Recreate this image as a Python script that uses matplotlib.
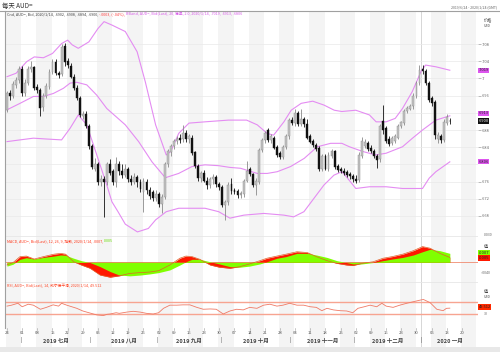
import matplotlib
matplotlib.use('Agg')
import matplotlib.pyplot as plt
import pandas as pd

plt.rcParams['font.family'] = ['Noto Sans CJK SC', 'DejaVu Sans']

W, H = 500, 352

# daily candles, AUD=  (2019-06-24 .. 2020-01-14, weekdays)
opens = [.6927, .6965, .6958, .6985, .6996, .7022, .6966, .6990, .7022, .7026,
         .6980, .6972, .6933, .6960, .6980, .7016, .7039, .7012, .7010, .7075,
         .7040, .7030, .7004, .6977, .6954, .6912, .6918, .6890, .6842, .6790,
         .6800, .6760, .6765, .6760, .6800, .6785, .6758, .6800, .6785, .6775,
         .6790, .6765, .6760, .6770, .6760, .6735, .6760, .6740, .6735, .6722,
         .6730, .6708, .6725, .6800, .6828, .6842, .6855, .6862, .6858, .6872,
         .6858, .6862, .6828, .6797, .6768, .6780, .6762, .6752, .6765, .6770,
         .6755, .6748, .6705, .6712, .6755, .6740, .6738, .6728, .6730, .6762,
         .6790, .6777, .6752, .6760, .6833, .6857, .6880, .6857, .6862, .6840,
         .6826, .6818, .6840, .6865, .6903, .6897, .6920, .6895, .6905, .6893,
         .6865, .6855, .6845, .6838, .6790, .6820, .6790, .6820, .6830, .6797,
         .6790, .6785, .6782, .6778, .6772, .6765, .6764, .6820, .6843, .6850,
         .6838, .6830, .6820, .6812, .6900, .6885, .6860, .6850, .6855, .6862,
         .6890, .6897, .6925, .6930, .6935, .6960, .6990, .7022, .7018, .6990,
         .6954, .6945, .6860, .6865, .6857, .6897, .6902]
highs = [.6970, .6972, .6995, .7003, .7030, .7030, .6998, .7030, .7040, .7030,
         .6988, .6978, .6965, .6990, .7022, .7045, .7045, .7018, .7080, .7082,
         .7048, .7035, .7010, .6985, .6960, .6925, .6925, .6895, .6848, .6815,
         .6805, .6775, .6772, .6805, .6812, .6790, .6818, .6808, .6800, .6802,
         .6795, .6775, .6780, .6775, .6765, .6768, .6765, .6748, .6740, .6740,
         .6735, .6730, .6805, .6835, .6848, .6860, .6865, .6870, .6892, .6880,
         .6870, .6868, .6832, .6802, .6785, .6788, .6770, .6770, .6778, .6775,
         .6760, .6752, .6718, .6758, .6768, .6745, .6742, .6738, .6765, .6808,
         .6795, .6780, .6768, .6838, .6862, .6878, .6885, .6870, .6866, .6845,
         .6830, .6845, .6870, .6908, .6910, .6928, .6924, .6928, .6910, .6905,
         .6870, .6860, .6850, .6842, .6825, .6825, .6828, .6836, .6834, .6800,
         .6795, .6792, .6788, .6782, .6778, .6775, .6828, .6864, .6858, .6855,
         .6845, .6836, .6825, .6895, .6938, .6890, .6865, .6866, .6870, .6895,
         .6902, .6930, .6936, .6940, .6965, .6995, .7032, .7031, .7022, .6995,
         .6960, .6950, .6875, .6870, .6905, .6918, .6908]
lows = [.6922, .6950, .6955, .6978, .6990, .6960, .6960, .6985, .7015, .6972,
        .6965, .6912, .6925, .6955, .6975, .7010, .7008, .7000, .7005, .7030,
        .7025, .7000, .6972, .6950, .6910, .6905, .6885, .6835, .6790, .6785,
        .6752, .6750, .6678, .6752, .6775, .6752, .6748, .6775, .6768, .6770,
        .6760, .6752, .6755, .6748, .6735, .6690, .6732, .6720, .6715, .6715,
        .6700, .6688, .6720, .6795, .6820, .6835, .6848, .6850, .6852, .6852,
        .6850, .6822, .6792, .6762, .6760, .6758, .6742, .6745, .6755, .6748,
        .6740, .6700, .6671, .6705, .6732, .6730, .6722, .6722, .6725, .6758,
        .6772, .6748, .6728, .6755, .6828, .6850, .6852, .6850, .6835, .6818,
        .6812, .6812, .6835, .6860, .6892, .6890, .6890, .6890, .6888, .6858,
        .6850, .6840, .6832, .6785, .6785, .6786, .6785, .6815, .6790, .6782,
        .6780, .6775, .6770, .6765, .6760, .6756, .6760, .6815, .6838, .6832,
        .6826, .6815, .6792, .6805, .6870, .6850, .6842, .6845, .6850, .6858,
        .6885, .6892, .6920, .6926, .6930, .6955, .6985, .7010, .6985, .6945,
        .6935, .6860, .6850, .6850, .6852, .6892, .6894]
closes = [.6965, .6958, .6988, .6996, .7023, .6966, .6990, .7022, .7026, .6978,
          .6972, .6932, .6960, .6982, .7016, .7039, .7012, .7008, .7074, .7038,
          .7031, .7004, .6977, .6954, .6915, .6918, .6890, .6842, .6795, .6800,
          .6760, .6765, .6760, .6800, .6780, .6760, .6800, .6785, .6775, .6790,
          .6765, .6760, .6770, .6760, .6743, .6762, .6740, .6727, .6722, .6730,
          .6708, .6725, .6800, .6830, .6842, .6855, .6860, .6856, .6872, .6858,
          .6865, .6827, .6797, .6768, .6780, .6762, .6752, .6765, .6770, .6755,
          .6748, .6705, .6712, .6752, .6738, .6735, .6728, .6733, .6762, .6785,
          .6777, .6752, .6762, .6833, .6857, .6872, .6857, .6865, .6838, .6822,
          .6817, .6840, .6865, .6903, .6897, .6920, .6895, .6905, .6893, .6862,
          .6853, .6845, .6835, .6790, .6820, .6790, .6822, .6830, .6795, .6787,
          .6785, .6780, .6776, .6772, .6765, .6762, .6822, .6855, .6852, .6836,
          .6830, .6820, .6810, .6890, .6880, .6855, .6848, .6862, .6866, .6890,
          .6898, .6925, .6932, .6935, .6960, .6990, .7020, .7017, .6990, .6950,
          .6943, .6868, .6868, .6857, .6899, .6910, .6900]

# Bollinger band (20, 2.0), read at sample days
bb_up_day = [0, 3, 6.5, 9, 12, 15, 18, 20, 21.5, 23.5, 27, 30, 32, 34.6, 39, 42.9,
             45.6, 49, 52.5, 54, 56.6, 60, 65.3, 73, 79, 82.5, 85.8, 87.9, 91.3,
             93.7, 97, 100.8, 104.5, 107.9, 110.4, 115, 119.5, 121.7, 125, 128,
             130.4, 133.6, 136.5, 138, 141.4, 146]
bb_up = [.7004, .7012, .7039, .7050, .7048, .7058, .7081, .7089, .7078, .7070,
         .7085, .7116, .7132, .7124, .7109, .7062, .6992, .6892, .6822, .6830,
         .6872, .6896, .6899, .6903, .6903, .6892, .6872, .6868, .6899, .6926,
         .6942, .6947, .6938, .6926, .6923, .6926, .6915, .6899, .6899, .6907,
         .6930, .6969, .7016, .7031, .7027, .7019]
bb_mid_day = [0, 4.3, 8.7, 12, 15.3, 18.6, 20.8, 23, 26.3, 29.6, 32.9, 36.6, 39,
              43.4, 47.8, 52.2, 56.6, 61, 65.3, 69.8, 73.5, 77, 82.5, 85.8, 89.1,
              93.5, 98, 102.3, 106.7, 110.4, 112.9, 117.3, 121.6, 125, 130.4,
              133.7, 137, 141.4, 146]
bb_mid = [.6927, .6942, .6958, .6958, .6965, .6977, .6989, .6991, .6985, .6961,
          .6930, .6907, .6892, .6853, .6806, .6769, .6779, .6795, .6799, .6797,
          .6793, .6791, .6779, .6779, .6783, .6795, .6814, .6841, .6849, .6849,
          .6841, .6830, .6822, .6826, .6841, .6861, .6880, .6903, .6913]
bb_low_day = [0, 4.3, 8.7, 13.1, 18, 20.8, 23.5, 26.3, 29.6, 32.9, 34.6, 36.6, 39,
              43, 46.6, 49, 52.5, 56.6, 61, 65.3, 69.8, 73.5, 78.1, 84.7, 91.3,
              94.5, 97.9, 101.2, 104.5, 107.8, 110.4, 111.8, 115, 119.5, 125,
              130.4, 137, 139.2, 141.4, 146]
bb_low = [.6853, .6857, .6861, .6859, .6857, .6884, .6915, .6892, .6822, .6752,
          .6713, .6690, .6661, .6643, .6651, .6671, .6690, .6698, .6698, .6698,
          .6690, .6675, .6682, .6686, .6682, .6678, .6690, .6721, .6752, .6775,
          .6783, .6772, .6744, .6748, .6748, .6744, .6744, .6768, .6783, .6806]

# MACD (12, 26, 9)
macd_day = [0, 2, 4.3, 6.4, 9, 12, 15.5, 17.7, 19.3, 22, 24.5, 27.4, 30.7, 34, 37,
            40.5, 44, 47, 50, 53.7, 57, 59, 61, 63.6, 67, 70, 73.5, 76.8, 80,
            83.4, 85.7, 89, 92, 95.6, 99, 102, 105.5, 108.8, 112, 114, 117,
            120.7, 124, 127, 130.5, 134, 137, 139.5, 142.7, 146]
macd = [-.0010, -.0001, .0021, .0023, .0012, .0021, .0030, .0033, .0030, .0002,
        -.0010, -.0022, -.0047, -.0055, -.0050, -.0041, -.0038, -.0036, -.0031,
        -.0010, .0015, .0023, .0021, .0011, -.0010, -.0018, -.0022, -.0016,
        -.0006, .0006, .0015, .0023, .0030, .0039, .0036, .0021, .0006, -.0004,
        -.0010, -.0012, -.0004, .0002, .0015, .0021, .0030, .0043, .0058, .0052,
        .0033, .0018]
signal = [-.0014, -.0007, .0011, .0017, .0012, .0018, .0023, .0027, .0026, .0015,
          .0006, -.0001, -.0016, -.0034, -.0047, -.0050, -.0047, -.0043, -.0038,
          -.0028, -.0010, .0002, .0011, .0011, .0002, -.0006, -.0016, -.0018,
          -.0014, -.0006, .0002, .0015, .0021, .0033, .0033, .0027, .0018, .0006,
          -.0001, -.0006, -.0006, -.0001, .0006, .0012, .0018, .0027, .0039,
          .0048, .0043, .0033]

# RSI (14)
rsi_day = [0, 1.5, 3.6, 5, 7, 8.7, 11, 13, 15.2, 17, 18, 19.7, 23, 25, 27, 29.6,
           31.8, 33, 34, 36, 37, 39.5, 41.6, 43.9, 46, 48.2, 50, 51.6, 53.7, 56,
           58, 60.3, 62.6, 64.7, 67, 69, 71.3, 73.5, 75.7, 77.9, 80, 82.4, 84.6,
           86.7, 89, 91, 93.2, 95.6, 97.8, 100, 102, 103.8, 105.5, 107.6, 109.8,
           112, 114, 115.7, 117.8, 119.7, 121.9, 123.6, 125, 127.3, 129.5, 131.8,
           134, 136.2, 137.3, 139.5, 141.7, 143.8, 144.9, 146]
rsi = [56, 59, 65, 54, 62, 59, 46, 52, 60, 56, 65, 59, 49, 40.5, 35, 28, 26, 30,
       31, 35, 33, 37, 39.5, 37, 33, 31, 35, 49, 59, 59, 60, 60, 52, 46, 47, 46,
       31, 40.5, 46, 44, 52, 49, 59, 62, 56, 59, 65, 59, 59, 54, 52, 41.5, 49,
       44, 41.5, 40.5, 35, 49, 54, 59, 54, 65, 56, 52, 59, 65, 70, 75, 77, 67,
       46, 41.5, 49, 49.512]

months = ['2019 七月', '2019 八月', '2019 九月', '2019 十月', '2019 十一月',
          '2019 十二月', '2020 一月']
price_ticks = [.668, .672, .676, .684, .688, .696, .700, .704, .708]
grid_ticks = [.668, .672, .676, .680, .684, .688, .692, .696, .700, .704, .708]

days = pd.bdate_range('2019-06-24', '2020-01-24')
n = len(closes)

# ---- pixel helpers (layout only) ----
X0 = 7.0
DX = 3.033


def px_axes(fig, x0, y0, x1, y1, **kw):
    return fig.add_axes([x0 / W, 1 - y1 / H, (x1 - x0) / W, (y1 - y0) / H], **kw)


def day_x(i):
    return (i - X0) / DX


fig = plt.figure(figsize=(W / 100, H / 100), dpi=100)
fig.patch.set_facecolor('white')
XL = (day_x(5), day_x(478))

# background week stripes
bg = px_axes(fig, 5, 11, 478, 347)
bg.set_xlim(*XL)
bg.set_ylim(0, 1)
bg.axis('off')
for k in range(0, len(days), 10):
    bg.axvspan(k - 0.3, k + 4.7, color='#f4f4f4', lw=0)
bg.axvline(136.5, color='#d0d0d0', lw=0.6)

# frame lines
fig.add_artist(plt.Line2D([0, 1], [1 - 11 / H] * 2, color='#a0a0a0', lw=0.8))
fig.add_artist(plt.Line2D([5 / W] * 2, [1 - 11 / H, 1 - 328 / H], color='#a0a0a0', lw=0.8))
fig.add_artist(plt.Rectangle((0, 0), 1, 5 / H, color='#e8e8e8', lw=0))

# ---- main price panel ----
ax = px_axes(fig, 5, 11, 478, 236)
ax.patch.set_alpha(0)
ax.set_xlim(*XL)
ax.set_ylim(.708 - 192 / 4300, .708 + 33 / 4300)
for t in grid_ticks:
    ax.axhline(t, color='#e9e9e9', lw=0.5, zorder=0)

ax.plot(bb_up_day, bb_up, color='#e48cf2', lw=0.8, zorder=2)
ax.plot(bb_mid_day, bb_mid, color='#e48cf2', lw=0.8, zorder=2)
ax.plot(bb_low_day, bb_low, color='#e48cf2', lw=0.8, zorder=2)

for i in range(n):
    up = closes[i] >= opens[i]
    fc = '#c4c4c4' if up else '#111111'
    ec = '#8a8a8a' if up else '#111111'
    ax.vlines(i, lows[i], highs[i], color=ec, lw=0.6, zorder=3)
    lo = min(opens[i], closes[i])
    hgt = max(abs(closes[i] - opens[i]), 0.00008)
    ax.bar(i, hgt, bottom=lo, width=0.62, color=fc, edgecolor=ec, lw=0.3, zorder=4)

ax.yaxis.tick_right()
ax.set_yticks(price_ticks)
ax.set_yticklabels([('%.3f' % t).lstrip('0').rstrip('0') for t in price_ticks])
ax.tick_params(axis='y', length=2, width=0.4, color='#888888', labelsize=2.9,
               labelcolor='#666666', pad=1)
ax.set_xticks([])
for s in ax.spines.values():
    s.set_visible(False)

# ---- MACD panel ----
mx = px_axes(fig, 5, 236, 478, 282)
mx.patch.set_alpha(0)
mx.set_xlim(*XL)
mx.set_ylim(-(282 - 262.3) * 0.000369, (262.3 - 236) * 0.000369)
mx.fill_between(macd_day, 0, macd, color='#ff1800', lw=0, zorder=2)
mx.fill_between(macd_day, 0, signal, color='#80ff00', lw=0, zorder=3)
mx.plot(macd_day, macd, color='#e0622a', lw=0.5, zorder=4)
mx.axhline(0, color='#f08a70', lw=0.6, zorder=1)
mx.axhline(mx.get_ylim()[1], color='#e6e6e6', lw=0.6)
mx.set_xticks([])
mx.set_yticks([])
for s in mx.spines.values():
    s.set_visible(False)

# ---- RSI panel ----
rx = px_axes(fig, 5, 282, 478, 328)
rx.patch.set_alpha(0)
rx.set_xlim(*XL)
rx.set_ylim(30 + (314.3 - 328) * 3.175, 30 + (314.3 - 282) * 3.175)
rx.axhline(70, color='#f7a491', lw=1.0)
rx.axhline(30, color='#f7a491', lw=1.0)
rx.plot(rsi_day, rsi, color='#f07a66', lw=0.6)
rx.axhline(rx.get_ylim()[1], color='#e6e6e6', lw=0.6)
rx.set_yticks([])
rx.set_xticks([])
for s in rx.spines.values():
    s.set_visible(False)

# x axis labels (Mondays) and months
for k in range(0, len(days), 5):
    xp = X0 + DX * k
    fig.text(xp / W, 1 - 333 / H, days[k].strftime('%d'), fontsize=3.0,
             color='#555555', ha='center', va='center')
    fig.add_artist(plt.Line2D([xp / W] * 2, [1 - 328 / H, 1 - 329.5 / H],
                              color='#999999', lw=0.4))
month_start = [i for i in range(1, len(days)) if days[i].month != days[i - 1].month]
bounds = month_start + [len(days)]
for j, m in enumerate(months):
    a, b = bounds[j], bounds[j + 1]
    xm = X0 + DX * ((a + b - 1) / 2)
    if j == len(months) - 1:
        xm = X0 + DX * (a + 9)
    fig.text(xm / W, 1 - 341 / H, m, fontsize=4.0, fontweight='bold',
             color='#444444', ha='center', va='center')
    xs = X0 + DX * (a - 0.5)
    fig.text(xs / W, 1 - 340 / H, '|', fontsize=4.0, color='#444444',
             ha='center', va='center')


# ---- coloured header lines ----
def runs(x, y, parts, size):
    r = fig.canvas.get_renderer()
    for s, c in parts:
        t = fig.text(x / W, 1 - y / H, s, color=c, fontsize=size, ha='left', va='center')
        x += t.get_window_extent(renderer=r).width


runs(7, 14.5, [('Cnd, AUD=, Bid, 2020/1/14, .6902, .6908, .6894, .6900, ', '#444444'),
               ('-.0003, (-.04%), ', '#ff3b3b'),
               ('BBand, AUD=, Bid(Last), 20, 简单, 2.0, 2020/1/14, .7019, .6913, .6806',
                '#d85ae8')], 2.7)
runs(7, 241, [('MACD, AUD=, Bid(Last), 12, 26, 9, 指数, 2020/1/14, .0007, ', '#ff3b1e'),
              ('.0005', '#66dd00')], 2.7)
runs(7, 286, [('RSI, AUD=, Bid(Last), 14, 威尔德平滑, 2020/1/14, 49.512', '#ff4a2a')], 2.7)

fig.text(2 / W, 1 - 6 / H, '每天 AUD=', fontsize=4.6, color='#333333', va='center')
fig.text(497 / W, 1 - 7 / H, '2019/6/24 - 2020/1/24 (GMT)', fontsize=2.5,
         color='#666666', ha='right', va='center')
fig.text(484 / W, 1 - 20 / H, '价格', fontsize=3.0, color='#444444', va='center')
fig.text(484 / W, 1 - 26 / H, 'USD', fontsize=2.5, color='#444444', va='center')


def tag(y, s, fc, tc):
    fig.text(478.5 / W, 1 - y / H, s, fontsize=2.9, color=tc, va='center', ha='left',
             bbox=dict(boxstyle='square,pad=0.15', fc=fc, ec='none'))


def py(p):
    return 44 + (.708 - p) * 4300


tag(py(bb_up[-1]), '.7019', '#dd55ee', '#222222')
tag(py(bb_mid[-1]) - 2.5, '.6913', '#dd55ee', '#222222')
tag(py(closes[-1]) - 0.5, '.6900', '#111111', '#ffffff')
tag(py(bb_low[-1]), '.6806', '#dd55ee', '#222222')

# MACD right labels
fig.text(484 / W, 1 - 235 / H, '.0030', fontsize=2.6, color='#666666', va='center')
fig.text(484 / W, 1 - 247 / H, '值', fontsize=3.0, color='#444444', va='center')
tag(253, '.0007', '#80ff00', '#222222')
tag(258, '.0005', '#ff1800', '#222222')
fig.text(481 / W, 1 - 273 / H, '-.0040', fontsize=2.6, color='#666666', va='center')
# RSI right labels
fig.text(484 / W, 1 - 292 / H, '值', fontsize=3.0, color='#444444', va='center')
fig.text(484 / W, 1 - 297 / H, 'USD', fontsize=2.5, color='#444444', va='center')
tag(307, '49.512', '#ff2a00', '#222222')
fig.text(484 / W, 1 - 314 / H, '30', fontsize=2.6, color='#666666', va='center')

fig.savefig('out.png', dpi=100)
